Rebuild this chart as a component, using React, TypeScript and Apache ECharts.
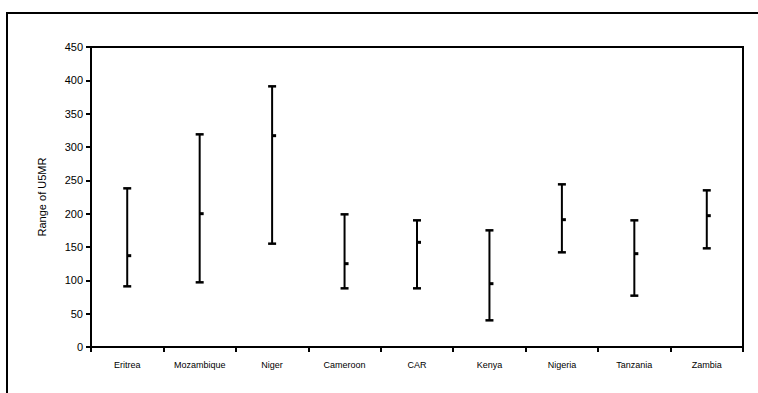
import React, { useEffect, useRef } from "react";
import * as echarts from "echarts";

const countries = ["Eritrea", "Mozambique", "Niger", "Cameroon", "CAR", "Kenya", "Nigeria", "Tanzania", "Zambia"];
const highValues = [238, 319, 391, 199, 190, 175, 244, 190, 235];
const lowValues = [91, 97, 155, 88, 88, 40, 142, 77, 148];
const midValues = [137, 200, 317, 125, 157, 95, 191, 140, 197];
const yTicks = { min: 0, max: 450, interval: 50 };

export default function App() {
  const ref = useRef<HTMLDivElement>(null);
  useEffect(() => {
    if (!ref.current) return;
    const chart = echarts.init(ref.current, undefined, { renderer: "svg" });
    const data = countries.map((_, i) => [i, lowValues[i], midValues[i], highValues[i]]);
    chart.setOption({
      animation: false,
      backgroundColor: "#fff",
      textStyle: { fontFamily: "Liberation Sans, Arial, sans-serif" },
      graphic: [
        {
          type: "rect",
          shape: { x: 7, y: 13, width: 900, height: 600 },
          style: { fill: "none", stroke: "#000", lineWidth: 2 },
          silent: true,
        },
      ],
      grid: {
        left: 91,
        right: 15,
        top: 47,
        bottom: 46,
        show: true,
        borderColor: "#000",
        borderWidth: 2,
        backgroundColor: "transparent",
      },
      xAxis: {
        type: "category",
        data: countries,
        boundaryGap: true,
        axisLine: { lineStyle: { color: "#000", width: 2 } },
        axisTick: { show: true, length: 5, inside: false, lineStyle: { color: "#000", width: 2 } },
        axisLabel: { color: "#000", fontSize: 9, margin: 13, interval: 0 },
        splitLine: { show: false },
      },
      yAxis: {
        type: "value",
        min: yTicks.min,
        max: yTicks.max,
        interval: yTicks.interval,
        name: "Range of U5MR",
        nameLocation: "middle",
        nameGap: 44,
        nameTextStyle: { color: "#000", fontSize: 11 },
        axisLine: { show: true, lineStyle: { color: "#000", width: 2 } },
        axisTick: { show: true, length: 5, lineStyle: { color: "#000", width: 2 } },
        axisLabel: { color: "#000", fontSize: 11, margin: 8 },
        splitLine: { show: false },
      },
      series: [
        {
          type: "custom",
          data,
          encode: { x: 0, y: [1, 2, 3] },
          renderItem: (params: any, api: any) => {
            const i = api.value(0);
            const lo = api.coord([i, api.value(1)]);
            const mid = api.coord([i, api.value(2)]);
            const hi = api.coord([i, api.value(3)]);
            const x = lo[0];
            const style = { stroke: "#000", lineWidth: 2, fill: "none" };
            return {
              type: "group",
              children: [
                { type: "line", shape: { x1: x, y1: hi[1], x2: x, y2: lo[1] }, style },
                { type: "line", shape: { x1: x - 4, y1: hi[1], x2: x + 4, y2: hi[1] }, style: { ...style, lineWidth: 2.5 } },
                { type: "line", shape: { x1: x - 4, y1: lo[1], x2: x + 4, y2: lo[1] }, style: { ...style, lineWidth: 2.5 } },
                { type: "line", shape: { x1: x, y1: mid[1], x2: x + 4, y2: mid[1] }, style: { ...style, lineWidth: 3 } },
              ],
            };
          },
        },
      ],
    });
    return () => chart.dispose();
  }, []);
  return <div ref={ref} style={{ position: "fixed", left: 0, top: 0, width: 758, height: 393 }} />;
}
